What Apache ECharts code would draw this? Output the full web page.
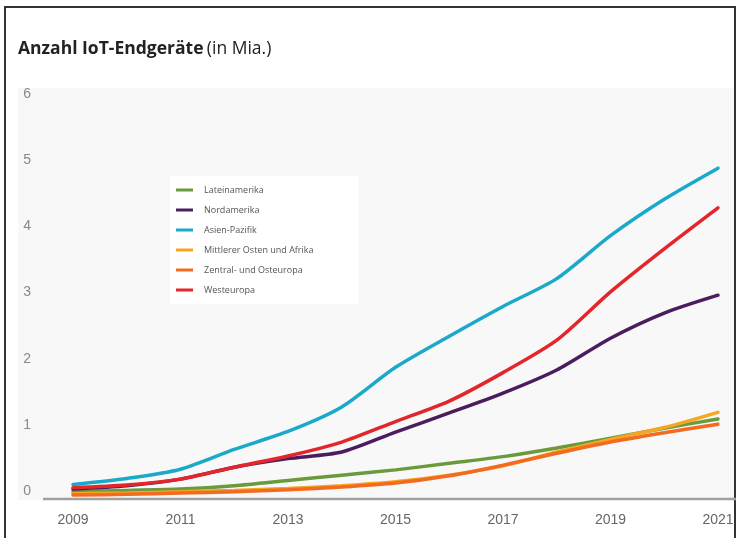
<!DOCTYPE html>
<html>
<head>
<meta charset="utf-8">
<script src="https://cdn.jsdelivr.net/npm/echarts@6/dist/echarts.min.js"></script>
<style>html,body{margin:0;padding:0;background:#fff;}#c{width:739px;height:538px;}</style>
</head>
<body>
<div id="c"></div>
<script>
var years = ['2009','2010','2011','2012','2013','2014','2015','2016','2017','2018','2019','2020','2021'];
var yTicks = [0,1,2,3,4,5,6];
var lateinamerika = [0.08,0.10,0.12,0.17,0.25,0.33,0.41,0.51,0.61,0.74,0.89,1.04,1.18];
var nordamerika   = [0.12,0.17,0.27,0.45,0.58,0.68,0.98,1.27,1.57,1.92,2.40,2.78,3.05];
var asienPazifik  = [0.19,0.28,0.42,0.72,0.99,1.36,1.96,2.43,2.88,3.30,3.95,4.50,4.97];
var mittlererOsten= [0.05,0.06,0.08,0.10,0.13,0.17,0.23,0.33,0.47,0.68,0.87,1.05,1.28];
var zentralOst    = [0.03,0.04,0.06,0.08,0.11,0.15,0.21,0.32,0.48,0.66,0.83,0.97,1.10];
var westeuropa    = [0.14,0.18,0.27,0.45,0.62,0.83,1.14,1.45,1.88,2.37,3.10,3.75,4.37];
var names = ['Lateinamerika','Nordamerika','Asien-Pazifik','Mittlerer Osten und Afrika','Zentral- und Osteuropa','Westeuropa'];
var colors = ['#6b9a3c','#4b1c5e','#1ba9c9','#f5a623','#f26b21','#e3262b'];
var values = [lateinamerika,nordamerika,asienPazifik,mittlererOsten,zentralOst,westeuropa];

var chart = echarts.init(document.getElementById('c'));
var series = names.map(function(n,i){
  return {
    name:n, type:'line', data:values[i], smooth:0.25, showSymbol:false, symbol:'none',
    lineStyle:{color:colors[i], width:3.5, cap:'round'}, itemStyle:{color:colors[i]},
    z: 2 + i
  };
});
chart.setOption({
  animation:false,
  backgroundColor:'#ffffff',
  graphic:[
    {type:'rect', z:-10, shape:{x:18,y:88,width:718,height:412}, style:{fill:'#f8f8f8'}},
    {type:'rect', z:-5, shape:{x:5,y:7,width:730,height:540}, style:{fill:'none',stroke:'#333',lineWidth:2}},
    {type:'line', z:5, shape:{x1:43,y1:499,x2:736,y2:499}, style:{stroke:'#a0a0a0',lineWidth:2.5}},
    {type:'text', left:18, top:40, style:{
      text:'{b|Anzahl IoT-Endgeräte} {n|(in Mia.)}',
      rich:{
        b:{fontFamily:'Open Sans',fontWeight:'bold',fontSize:17.5,fill:'#222'},
        n:{fontFamily:'Open Sans',fontSize:17.5,fill:'#222'}
      }
    }}
  ],
  legend:{
    orient:'vertical', left:170, top:176,
    backgroundColor:'#ffffff',
    padding:[7,45,7,6],
    icon:'rect', itemWidth:17, itemHeight:3, itemGap:6,
    textStyle:{fontFamily:'Open Sans',fontSize:9,color:'#555',lineHeight:14,padding:[0,0,0,6]},
    data:names
  },
  grid:{left:73, right:21, top:100, bottom:41},
  xAxis:{
    type:'category', data:years, boundaryGap:false,
    axisLine:{show:false}, axisTick:{show:false},
    axisLabel:{interval:1, color:'#666', fontFamily:'Liberation Sans', fontSize:14, margin:16}
  },
  yAxis:{
    type:'value', min:yTicks[0], max:yTicks[yTicks.length-1], interval:1,
    splitLine:{show:false}, axisLine:{show:false}, axisTick:{show:false},
    axisLabel:{color:'#888', fontFamily:'Liberation Sans', fontSize:14, margin:42, verticalAlign:'bottom', lineHeight:12}
  },
  series:series
});
</script>
</body>
</html>
